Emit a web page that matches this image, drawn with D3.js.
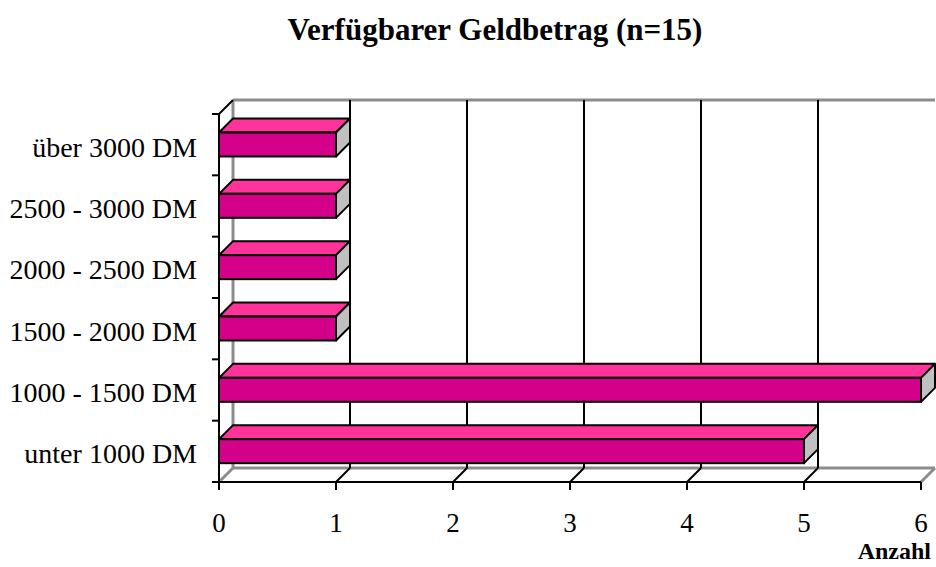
<!DOCTYPE html>
<html>
<head>
<meta charset="utf-8">
<script src="https://cdn.jsdelivr.net/npm/d3@7"></script>
<style>
  body { margin: 0; background: #fff; }
  text { font-family: "Liberation Serif", "Times New Roman", serif; }
</style>
</head>
<body>
<svg id="chart" width="936" height="567"></svg>
<script>
// Data
var categories = ["über 3000 DM", "2500 - 3000 DM", "2000 - 2500 DM", "1500 - 2000 DM", "1000 - 1500 DM", "unter 1000 DM"];
var counts = [1, 1, 1, 1, 6, 5];
var xTicks = [0, 1, 2, 3, 4, 5, 6];

var data = categories.map(function(c, i) { return { cat: c, val: counts[i] }; });

var svg = d3.select("#chart");
var depth = 14;          // 3D offset
var barOffset = 18.5;    // bar front top inside band
var barHeight = 24;

var x = d3.scaleLinear().domain([0, 6]).range([219, 921]);
var y = d3.scaleBand().domain(categories).range([114, 482]);

var plotTop = y.range()[0], plotBottom = y.range()[1];
var plotLeft = x(0), plotRight = x(6);

// Back wall and floor (gray)
var gray = "#8c8c8c";
function grayLine(x1, y1, x2, y2) {
  svg.append("line").attr("x1", x1).attr("y1", y1).attr("x2", x2).attr("y2", y2)
    .attr("stroke", gray).attr("stroke-width", 3);
}
grayLine(plotLeft + depth, plotTop - depth, plotRight + depth, plotTop - depth);
grayLine(plotLeft + depth, plotTop - depth, plotLeft + depth, plotBottom - depth);
grayLine(plotLeft + depth, plotBottom - depth, plotRight + depth, plotBottom - depth);
grayLine(plotLeft, plotBottom, plotLeft + depth, plotBottom - depth);
grayLine(plotRight, plotBottom, plotRight + depth, plotBottom - depth);

var inner = xTicks.filter(function(d) { return d > 0 && d < 6; });

// Gridlines on back wall
svg.selectAll(".grid")
  .data(inner)
  .enter()
  .append("line")
  .attr("class", "grid")
  .attr("x1", function(d) { return x(d) + depth; })
  .attr("x2", function(d) { return x(d) + depth; })
  .attr("y1", plotTop - depth)
  .attr("y2", plotBottom - depth)
  .attr("stroke", "#000")
  .attr("stroke-width", 2);

// Floor diagonals
svg.selectAll(".diag")
  .data(inner)
  .enter()
  .append("line")
  .attr("class", "diag")
  .attr("x1", function(d) { return x(d); })
  .attr("y1", plotBottom)
  .attr("x2", function(d) { return x(d) + depth; })
  .attr("y2", plotBottom - depth)
  .attr("stroke", "#000")
  .attr("stroke-width", 2);

// Bars (top, side, front faces)
var bars = svg.selectAll(".bar")
  .data(data)
  .enter()
  .append("g")
  .attr("class", "bar");

bars.append("polygon")
  .attr("points", function(d) {
    var y0 = y(d.cat) + barOffset, x0 = x(0), x1 = x(d.val);
    return [[x0, y0], [x0 + depth, y0 - depth], [x1 + depth, y0 - depth], [x1, y0]].join(" ");
  })
  .attr("fill", "#ff3399")
  .attr("stroke", "#000")
  .attr("stroke-width", 2)
  .attr("stroke-linejoin", "round");

bars.append("polygon")
  .attr("points", function(d) {
    var y0 = y(d.cat) + barOffset, x1 = x(d.val);
    return [[x1, y0], [x1 + depth, y0 - depth], [x1 + depth, y0 + barHeight - depth], [x1, y0 + barHeight]].join(" ");
  })
  .attr("fill", "#c0c0c0")
  .attr("stroke", "#000")
  .attr("stroke-width", 2)
  .attr("stroke-linejoin", "round");

bars.append("rect")
  .attr("x", x(0))
  .attr("y", function(d) { return y(d.cat) + barOffset; })
  .attr("width", function(d) { return x(d.val) - x(0); })
  .attr("height", barHeight)
  .attr("fill", "#d4008a")
  .attr("stroke", "#000")
  .attr("stroke-width", 2);

// Front axes
svg.append("line").attr("x1", plotLeft).attr("y1", plotTop).attr("x2", plotLeft).attr("y2", plotBottom)
  .attr("stroke", "#000").attr("stroke-width", 2);
svg.append("line").attr("x1", plotLeft).attr("y1", plotTop).attr("x2", plotLeft + depth).attr("y2", plotTop - depth)
  .attr("stroke", "#000").attr("stroke-width", 2);
svg.append("line").attr("x1", plotLeft).attr("y1", plotBottom).attr("x2", plotRight).attr("y2", plotBottom)
  .attr("stroke", "#000").attr("stroke-width", 2);

// Y ticks on band boundaries
var yBounds = categories.map(function(c) { return y(c); }).concat([plotBottom]);
svg.selectAll(".ytick")
  .data(yBounds)
  .enter()
  .append("line")
  .attr("x1", plotLeft - 7).attr("x2", plotLeft)
  .attr("y1", function(d) { return d; }).attr("y2", function(d) { return d; })
  .attr("stroke", "#000").attr("stroke-width", 2);

// X ticks
svg.selectAll(".xtick")
  .data(xTicks)
  .enter()
  .append("line")
  .attr("x1", function(d) { return x(d); }).attr("x2", function(d) { return x(d); })
  .attr("y1", plotBottom).attr("y2", plotBottom + 8)
  .attr("stroke", "#000").attr("stroke-width", 2);

svg.selectAll(".xlabel")
  .data(xTicks)
  .enter()
  .append("text")
  .attr("x", function(d) { return x(d); })
  .attr("y", 532)
  .attr("text-anchor", "middle")
  .attr("font-size", "27px")
  .text(function(d) { return d; });

svg.selectAll(".ylabel")
  .data(categories)
  .enter()
  .append("text")
  .attr("x", 197)
  .attr("y", function(d) { return y(d) + y.bandwidth() / 2 + 12; })
  .attr("text-anchor", "end")
  .attr("font-size", "28px")
  .text(function(d) { return d; });

// Title and axis title
svg.append("text")
  .attr("x", 495).attr("y", 40)
  .attr("text-anchor", "middle")
  .attr("font-size", "31px")
  .attr("font-weight", "700")
  .text("Verfügbarer Geldbetrag (n=15)");

svg.append("text")
  .attr("x", 931).attr("y", 559)
  .attr("text-anchor", "end")
  .attr("font-size", "24px")
  .attr("font-weight", "700")
  .text("Anzahl");
</script>
</body>
</html>
